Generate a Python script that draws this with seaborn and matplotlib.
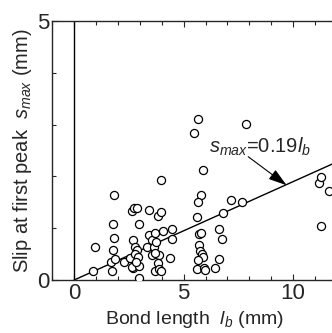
import numpy as np
import pandas as pd
import matplotlib
matplotlib.use('Agg')
import matplotlib.pyplot as plt
from matplotlib.ticker import MultipleLocator
import seaborn as sns

# bond length l_b (mm) and slip at first peak s_max (mm)
lb = [0.85, 0.94, 1.72, 1.69, 1.84, 1.80, 1.84, 1.80, 1.87, 2.29,
      2.55, 2.67, 2.66, 2.72, 2.87, 2.97, 2.78, 2.86, 2.78, 2.93,
      2.70, 2.63, 2.97, 2.97, 2.81, 3.31, 3.43, 3.43, 3.54, 3.65,
      3.69, 3.57, 3.69, 3.74, 3.81, 3.98, 3.89, 3.84, 3.86, 3.98,
      3.98, 4.07, 4.36, 4.48, 4.48, 3.71, 5.47, 5.67, 5.87, 5.78,
      5.67, 5.62, 5.70, 5.79, 5.71, 5.74, 5.82, 5.87, 5.67, 5.59,
      5.91, 5.97, 6.43, 6.61, 6.61, 6.73, 6.78, 7.17, 7.67, 7.87,
      11.17, 11.26, 11.64, 11.26]
smax = [0.18, 0.63, 0.18, 0.34, 1.64, 1.09, 0.82, 0.58, 0.40, 0.35,
        0.42, 0.77, 1.34, 1.40, 1.40, 1.08, 0.64, 0.58, 0.50, 0.45,
        0.23, 0.26, 0.27, 0.03, 0.35, 0.64, 1.35, 0.87, 0.77, 0.64,
        0.90, 0.48, 0.18, 0.74, 1.24, 1.31, 0.48, 0.32, 0.21, 0.18,
        1.93, 0.95, 0.43, 0.98, 0.80, 0.53, 2.83, 3.11, 2.12, 1.65,
        1.50, 1.21, 0.88, 0.90, 0.68, 0.57, 0.51, 0.44, 0.39, 0.21,
        0.24, 0.19, 0.24, 0.41, 0.98, 0.80, 1.29, 1.54, 1.51, 3.01,
        1.87, 1.99, 1.72, 1.05]

slope = 0.19
fit_x = [0, 12]

df = pd.DataFrame({'lb': lb, 'smax': smax})
fit = pd.DataFrame({'lb': fit_x, 'smax': [slope * v for v in fit_x]})

sns.set_style('ticks')
plt.rcParams['font.family'] = ['Liberation Sans', 'DejaVu Sans']
plt.rcParams['mathtext.fontset'] = 'custom'
plt.rcParams['mathtext.rm'] = 'Liberation Sans'
plt.rcParams['mathtext.it'] = 'Liberation Sans:italic'

fig = plt.figure(figsize=(3.32, 3.33), dpi=100)
ax = fig.add_axes([0.157, 0.159, 0.858, 0.778])

ax.axvline(0, color='black', lw=1)
sns.lineplot(data=fit, x='lb', y='smax', color='black', lw=1, ax=ax)
sns.scatterplot(data=df, x='lb', y='smax', s=34, facecolor='white',
                edgecolor='black', linewidth=0.9, ax=ax, zorder=3)

ax.set_xlim(-1, 12)
ax.set_ylim(0, 5)
ax.xaxis.set_major_locator(MultipleLocator(5))
ax.xaxis.set_minor_locator(MultipleLocator(1))
ax.yaxis.set_major_locator(MultipleLocator(5))
ax.yaxis.set_minor_locator(MultipleLocator(1))
ax.tick_params(which='both', direction='in', top=True, right=True,
               labelsize=16, width=0.8, pad=2)
ax.tick_params(which='major', length=4)
ax.tick_params(which='minor', length=3)
for sp in ax.spines.values():
    sp.set_linewidth(1)

ax.set_xlabel('Bond length  $l_b$ (mm)', fontsize=14, labelpad=4)
ax.set_ylabel('Slip at first peak  $s_{max}$ (mm)', fontsize=14.5, labelpad=2)

ax.text(8.5, 2.57, '$s_{max}$=0.19$l_b$', ha='center', va='center', fontsize=14.5)
ax.annotate('', xy=(9.7, 1.83), xytext=(7.95, 2.38),
            arrowprops=dict(arrowstyle='-|>,head_length=0.7,head_width=0.22',
                            color='black', lw=0.8,
                            shrinkA=0, shrinkB=0, mutation_scale=16))

fig.savefig('out.png', dpi=100)
